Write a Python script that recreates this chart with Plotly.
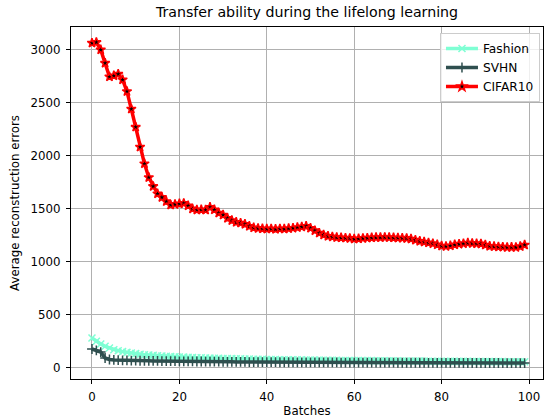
import plotly.graph_objects as go

batches = list(range(100))

fashion = [283, 251, 226, 204, 188, 172, 163, 154, 147, 141,
           135, 130, 125, 122, 119, 116, 113, 110, 108, 106,
           104, 102, 100, 98, 97, 96, 94, 93, 92, 91,
           90, 89, 88, 87, 86, 85, 84, 83, 82, 81,
           80, 79, 79, 78, 78, 77, 77, 76, 76, 75,
           75, 74, 74, 73, 73, 72, 72, 71, 71, 70,
           70, 70, 69, 69, 69, 68, 68, 68, 67, 67,
           67, 66, 66, 66, 65, 65, 65, 64, 64, 64,
           63, 63, 63, 62, 62, 62, 62, 61, 61, 61,
           61, 60, 60, 60, 60, 59, 59, 59, 59, 58]

svhn = [179, 166, 150, 94, 80, 76, 74, 72, 71, 70,
        69, 68, 67, 67, 66, 66, 65, 65, 64, 64,
        63, 63, 62, 62, 61, 61, 60, 60, 59, 59,
        58, 58, 58, 57, 57, 57, 56, 56, 56, 55,
        55, 55, 55, 54, 54, 54, 54, 53, 53, 53,
        53, 53, 52, 52, 52, 52, 52, 51, 51, 51,
        51, 51, 51, 50, 50, 50, 50, 50, 50, 50,
        49, 49, 49, 49, 49, 49, 49, 48, 48, 48,
        48, 48, 48, 48, 48, 47, 47, 47, 47, 47,
        47, 47, 47, 47, 46, 46, 46, 46, 46, 46]

cifar10 = [3063, 3070, 3000, 2874, 2745, 2755, 2770, 2717, 2607, 2441,
           2271, 2083, 1926, 1796, 1712, 1643, 1608, 1570, 1536, 1542,
           1548, 1552, 1530, 1500, 1490, 1492, 1490, 1515, 1492, 1461,
           1442, 1412, 1390, 1374, 1366, 1355, 1336, 1322, 1316, 1313,
           1310, 1312, 1308, 1312, 1310, 1315, 1318, 1325, 1330, 1336,
           1318, 1295, 1272, 1255, 1242, 1236, 1230, 1228, 1225, 1222,
           1216, 1218, 1222, 1225, 1228, 1230, 1230, 1232, 1230, 1228,
           1226, 1224, 1222, 1216, 1205, 1195, 1188, 1180, 1172, 1162,
           1150, 1146, 1152, 1162, 1168, 1172, 1178, 1175, 1172, 1170,
           1160, 1148, 1145, 1142, 1140, 1137, 1138, 1137, 1145, 1160]

x_ticks = [0, 20, 40, 60, 80, 100]
y_ticks = [0, 500, 1000, 1500, 2000, 2500, 3000]

fig = go.Figure()
fig.add_trace(go.Scatter(
    x=batches, y=fashion, name="Fashion", mode="lines+markers",
    line=dict(color="#7FFFD4", width=3.5),
    marker=dict(symbol="x-thin-open", size=7, color="#7FFFD4",
                line=dict(color="#7FFFD4", width=1.5))))
fig.add_trace(go.Scatter(
    x=batches, y=svhn, name="SVHN", mode="lines+markers",
    line=dict(color="#2F4F4F", width=3.5),
    marker=dict(symbol="cross-thin-open", size=7, color="#2F4F4F",
                line=dict(color="#2F4F4F", width=1.5))))
fig.add_trace(go.Scatter(
    x=batches, y=cifar10, name="CIFAR10", mode="lines+markers",
    line=dict(color="#FF0000", width=3.5),
    marker=dict(symbol="star", size=7, color="#000000",
                line=dict(color="#FF0000", width=1.5))))

axis_common = dict(
    showline=True, linecolor="black", linewidth=1, mirror=True,
    ticks="outside", ticklen=4, tickcolor="black",
    showgrid=True, gridcolor="#b0b0b0", gridwidth=0.8,
    zeroline=False, tickfont=dict(size=11.8, color="black"),
)

fig.update_layout(
    width=547, height=418,
    margin=dict(l=71, r=4, t=27, b=39, autoexpand=False),
    paper_bgcolor="white", plot_bgcolor="white",
    font=dict(family="DejaVu Sans", color="black"),
    title=dict(text="Transfer ability during the lifelong learning",
               xref="paper", x=0.5, xanchor="center",
               yref="container", y=0.972, yanchor="middle",
               font=dict(size=14.2, color="black")),
    xaxis=dict(range=[-4.8, 103.2], tickvals=x_ticks,
               ticklabelstandoff=3,
               title=dict(text="Batches", font=dict(size=11.8), standoff=4),
               **axis_common),
    yaxis=dict(range=[-104, 3214], tickvals=y_ticks,
               ticklabelstandoff=3,
               title=dict(text="Average reconstruction errors", font=dict(size=11.8), standoff=8),
               **axis_common),
    legend=dict(x=0.9936, y=0.983, xanchor="right", yanchor="top",
                bgcolor="rgba(255,255,255,0.8)", bordercolor="#cccccc",
                borderwidth=1, font=dict(size=12.2, color="black"),
                itemwidth=32, tracegroupgap=0),
    showlegend=True,
)

fig.write_html("out.html", config={"displayModeBar": False},
               post_script="document.body.style.margin='0';document.body.style.padding='0';")
